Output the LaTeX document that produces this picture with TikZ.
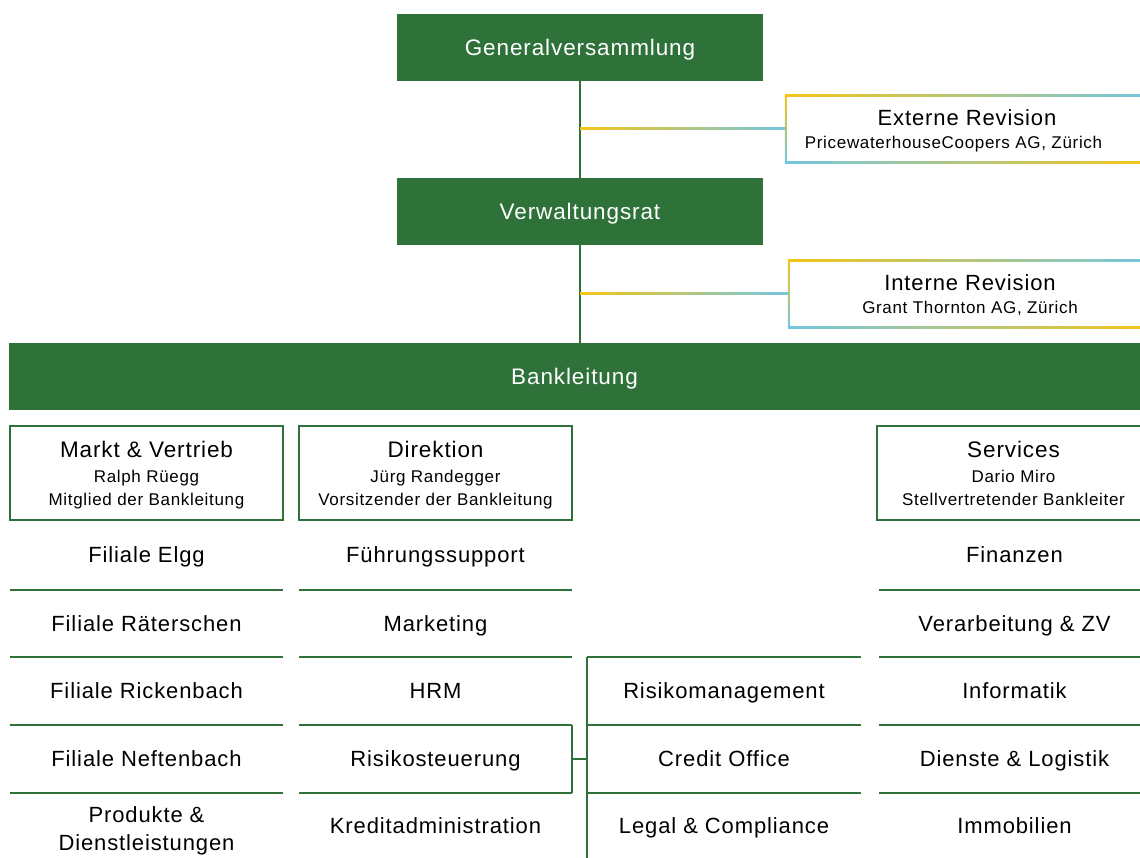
\documentclass[tikz,border=0pt]{standalone}
\usepackage{fontspec}
\setmainfont{Liberation Sans}[LetterSpace=4]
\usetikzlibrary{calc}

\definecolor{bankgreen}{HTML}{2E723A}
\definecolor{revyellow}{HTML}{F5C518}
\definecolor{revgreen}{HTML}{8DB06A}
\definecolor{revblue}{HTML}{72C7E0}

\tikzset{
  bigbox/.style={fill=bankgreen, text=white, inner sep=0pt, text depth=0pt, font=\fontsize{22.5}{26}\selectfont},
  headbox/.style={draw=bankgreen, line width=2pt, inner sep=0pt, text depth=0pt, align=center, minimum width=273, minimum height=94, font=\fontsize{17}{23}\selectfont},
  revbox/.style={inner sep=0pt, text depth=0pt, align=center, minimum width=362, minimum height=66, font=\fontsize{17}{23}\selectfont},
  cell/.style={inner sep=0pt, text depth=0pt, align=center, font=\fontsize{22}{28}\selectfont},
  link/.style={draw=bankgreen, line width=2pt},
  sep/.style={draw=bankgreen, line width=1.6pt},
}

\begin{document}
\begin{tikzpicture}[x=1pt, y=-1pt]
  \useasboundingbox (0,0) rectangle (1140,858);

  % top of the tree
  \node[bigbox, minimum width=366, minimum height=67] (gv) at (580, 47.5) {Generalversammlung};
  \node[bigbox, minimum width=366, minimum height=67] (vr) at (580, 211.5) {Verwaltungsrat};
  \node[bigbox, minimum width=1131, minimum height=67] (bl) at (574.5, 376.5) {Bankleitung};

  \draw[link] (gv) -- (vr);
  \draw[link] (vr.south) -- (vr.south |- bl.north);

  % revision boxes
  \node[revbox] (ext) at (967, 129) {{\fontsize{22}{26}\selectfont Externe Revision}\\[0pt] \hspace*{-27pt}PricewaterhouseCoopers AG, Zürich};
  \node[revbox] (int) at (970, 294) {{\fontsize{22}{26}\selectfont Interne Revision}\\[0pt] Grant Thornton AG, Zürich};

  \foreach \rev in {ext, int} {
    \shade[left color=revyellow, middle color=revgreen, right color=revblue]
      ([yshift=1pt]gv.south |- \rev.west) rectangle ([yshift=-1pt]\rev.west);
    \shade[left color=revyellow, middle color=revgreen, right color=revblue]
      ([yshift=1pt]\rev.north west) rectangle ([yshift=-1pt]\rev.north east);
    \shade[left color=revblue, middle color=revgreen, right color=revyellow]
      ([yshift=1pt]\rev.south west) rectangle ([yshift=-1pt]\rev.south east);
    \shade[top color=revyellow, middle color=revgreen, bottom color=revblue]
      ([xshift=-1pt,yshift=1pt]\rev.north west) rectangle ([xshift=1pt,yshift=-1pt]\rev.south west);
  }

  % heads of the departments
  \node[headbox] (markt) at (146.5, 473) {{\fontsize{22.5}{26}\selectfont Markt \& Vertrieb}\\[2pt] Ralph Rüegg\\ Mitglied der Bankleitung};
  \node[headbox] (dir) at (435.5, 473) {{\fontsize{22.5}{26}\selectfont Direktion}\\[2pt] Jürg Randegger\\ Vorsitzender der Bankleitung};
  \node[headbox] (serv) at (1013.5, 473) {{\fontsize{22.5}{26}\selectfont Services}\\[2pt] Dario Miro\\ Stellvertretender Bankleiter};

  % Markt & Vertrieb
  \node[cell, minimum width=273, minimum height=70] (elgg) at (146.5, 555) {Filiale Elgg};
  \node[cell, minimum width=273, minimum height=67] (raet) at (146.5, 623.5) {Filiale Räterschen};
  \node[cell, minimum width=273, minimum height=68] (rick) at (146.5, 691) {Filiale Rickenbach};
  \node[cell, minimum width=273, minimum height=68] (neft) at (146.5, 759) {Filiale Neftenbach};
  \node[cell, minimum width=273, minimum height=65] (prod) at (146.5, 829) {Produkte \&\\ Dienstleistungen};

  % Direktion
  \node[cell, minimum width=273, minimum height=70] (fuehr) at (435.5, 555) {Führungssupport};
  \node[cell, minimum width=273, minimum height=67] (mark) at (435.5, 623.5) {Marketing};
  \node[cell, minimum width=273, minimum height=68] (hrm) at (435.5, 691) {HRM};
  \node[cell, minimum width=273, minimum height=68] (rist) at (435.5, 759) {Risikosteuerung};
  \node[cell, minimum width=273, minimum height=65] (kred) at (435.5, 825.5) {Kreditadministration};

  % under Risikosteuerung
  \node[cell, minimum width=274, minimum height=68] (rman) at (724, 691) {Risikomanagement};
  \node[cell, minimum width=274, minimum height=68] (cred) at (724, 759) {Credit Office};
  \node[cell, minimum width=274, minimum height=65] (legal) at (724, 825.5) {Legal \& Compliance};

  % Services
  \node[cell, minimum width=271, minimum height=70] (fin) at (1014.5, 555) {Finanzen};
  \node[cell, minimum width=271, minimum height=67] (verarb) at (1014.5, 623.5) {Verarbeitung \& ZV};
  \node[cell, minimum width=271, minimum height=68] (info) at (1014.5, 691) {Informatik};
  \node[cell, minimum width=271, minimum height=68] (dienst) at (1014.5, 759) {Dienste \& Logistik};
  \node[cell, minimum width=271, minimum height=65] (immo) at (1014.5, 825.5) {Immobilien};

  % separating lines
  \foreach \c in {elgg, raet, rick, neft, fuehr, mark, hrm, rist, fin, verarb, info, dienst}
    \draw[sep] (\c.south west) -- (\c.south east);
  \foreach \c in {rman, cred, legal}
    \draw[sep] (\c.north west) -- (\c.north east);
  \draw[sep] (rman.north west) -- (legal.south west);
  \draw[sep] (rist.north east) -- (rist.south east);
  \draw[sep] (rist.east) -- (rist.east -| cred.west);
\end{tikzpicture}
\end{document}
